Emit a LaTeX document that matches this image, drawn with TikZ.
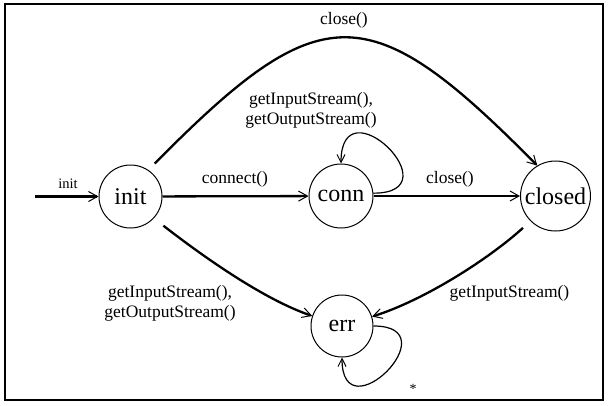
\documentclass[tikz,border=0pt]{standalone}
\usepackage{fontspec}
\setmainfont{Liberation Serif}
\usetikzlibrary{arrows.meta}
\begin{document}
\begin{tikzpicture}[x=1pt,y=-1pt,
  state/.style={draw,circle,line width=1pt,inner sep=0pt,font=\fontsize{24}{26}\selectfont},
  edgelabel/.style={font=\fontsize{17.5}{20}\selectfont,align=center,inner sep=0pt},
  trans/.style={line width=2.3pt,-{Straight Barb[length=9pt,width=10pt,line width=1pt]}},
  selfloop/.style={line width=1.2pt,-{Straight Barb[length=8pt,width=8pt,line width=1pt]}}]
\useasboundingbox (0,0) rectangle (608,405);
\draw[line width=2.8pt] (5,4) rectangle (603,400);
% states
\node[state,minimum size=63pt] (init) at (130.5,196.5) {init};
\node[state,minimum size=64pt] (conn) at (341,196) {conn};
\node[state,minimum size=70pt] (closed) at (555.5,196) {closed};
\node[state,minimum size=62pt] (err) at (342,326) {err};
\coordinate (start) at (35,196.5);
% transitions
\draw[trans] (start) -- (init);
\node[font=\fontsize{14.5}{16}\selectfont,inner sep=0pt] (lbinit) at (68,184) {init};
\draw[trans] (init) -- (conn);
\node[edgelabel] (lbconnect) at (235,179) {connect()};
\draw[trans] (conn) -- (closed);
\node[edgelabel] (lbclose) at (450,179) {close()};
\draw[trans,shorten <=9pt] (init.56) .. controls (321,-5) and (369,-5) .. (closed.121);
\node[edgelabel] (lbclosetop) at (344,20) {close()};
\draw[selfloop] (conn.5) .. controls +(82,0) and +(0,-82) .. (conn.north);
\node[edgelabel] (lbconnloop) at (311,110) {getInputStream(),\\getOutputStream()};
\draw[trans,shorten <=12pt] (init.-43) .. controls (205,258) and (265,300) .. (err);
\node[edgelabel] (lbinitErr) at (170,303) {getInputStream(),\\getOutputStream()};
\draw[trans,shorten <=10pt] (closed.225) .. controls (490,258) and (425,300) .. (err);
\node[edgelabel] (lbclosedErr) at (509.5,293) {getInputStream()};
\draw[selfloop] (err.east) .. controls +(78,0) and +(0,78) .. (err.south);
\node[font=\fontsize{14}{16}\selectfont,inner sep=0pt] (lbstar) at (413,389) {*};
\end{tikzpicture}
\end{document}
